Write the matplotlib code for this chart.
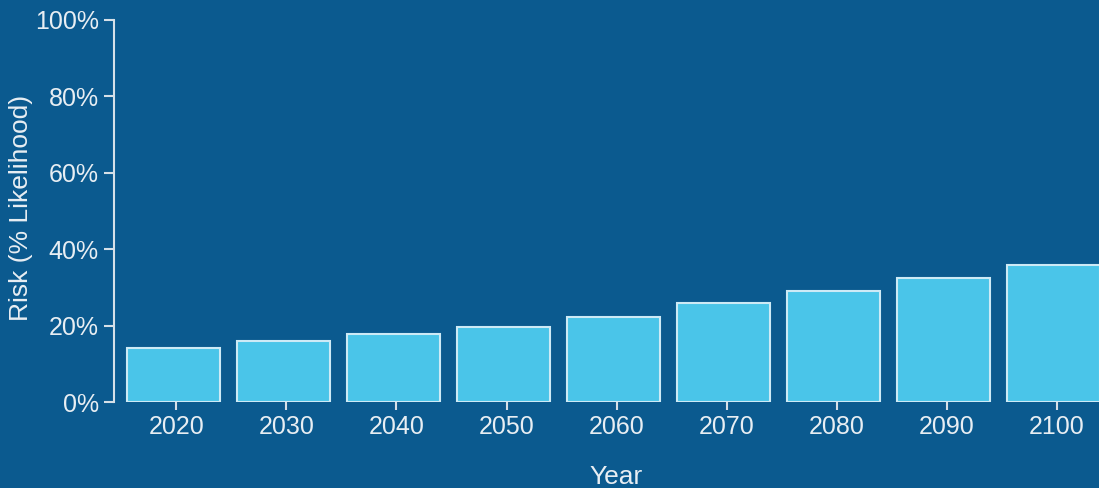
import numpy as np
import matplotlib
matplotlib.use("Agg")
import matplotlib.pyplot as plt
from matplotlib.ticker import FuncFormatter

# risk by decade
years = ['2020', '2030', '2040', '2050', '2060', '2070', '2080', '2090', '2100']
risk = [14.1, 16.0, 17.9, 19.6, 22.3, 25.8, 29.1, 32.4, 35.8]

BG = '#0b5a8f'
BAR = '#4ac5e9'
EDGE = '#cdeaf6'
FG = '#e8eef3'

plt.rcParams['font.family'] = ['Liberation Sans', 'DejaVu Sans']

fig = plt.figure(figsize=(10.99, 4.88), dpi=100, facecolor=BG)
# plot area in figure pixels: left 114, top 20, bottom 402
ax = fig.add_axes([114 / 1099, 86 / 488, 985 / 1099, 382 / 488])
ax.set_facecolor(BG)

x = np.arange(len(years))
ax.bar(x, risk, width=0.845, color=BAR, edgecolor=EDGE, linewidth=1.5)

ax.set_xlim(-0.538, 8.416)
ax.set_ylim(0, 100)

ax.set_xticks(x + 0.03)
ax.set_xticklabels(years)
ax.set_yticks([0, 20, 40, 60, 80, 100])
ax.yaxis.set_major_formatter(FuncFormatter(lambda v, p: '{:.0f}%'.format(v)))

for s in ['top', 'right', 'bottom']:
    ax.spines[s].set_visible(False)
ax.spines['left'].set_color('#d6e0e8')
ax.spines['left'].set_linewidth(1.5)

ax.tick_params(axis='y', colors='#d6e0e8', labelcolor=FG, length=7, width=1.5,
               pad=4, labelsize=18)
ax.tick_params(axis='x', colors='#d6e0e8', labelcolor=FG, length=5.5, width=1.5,
               pad=4, labelsize=18)

fig.text(616 / 1099, 1 - 477 / 488, 'Year', color=FG, fontsize=19,
         ha='center', va='center')
fig.text(21 / 1099, 1 - 208 / 488, 'Risk (% Likelihood)', color=FG, fontsize=19,
         ha='center', va='center', rotation=90)

fig.savefig('out.png', dpi=100, facecolor=BG)
